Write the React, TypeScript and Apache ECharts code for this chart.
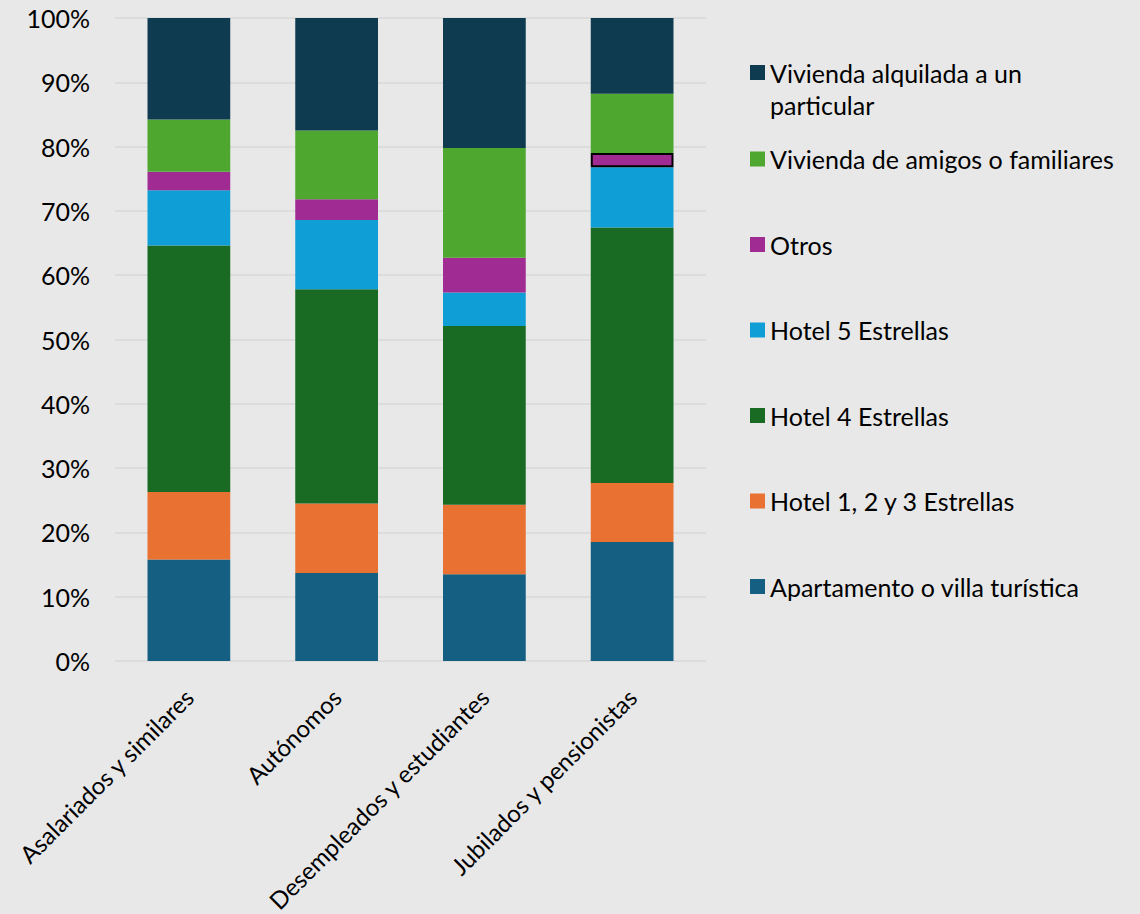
import React, { useEffect, useRef } from "react";
import * as echarts from "echarts";

const categories = [
  "Asalariados y similares",
  "Autónomos",
  "Desempleados y estudiantes",
  "Jubilados y pensionistas",
];

const apartamento = [15.8, 13.7, 13.5, 18.5];
const hotel123 = [10.5, 10.8, 10.8, 9.2];
const hotel4 = [38.3, 33.3, 27.8, 39.7];
const hotel5 = [8.6, 10.8, 5.2, 9.4];
const otros = [2.9, 3.2, 5.4, 2.2];
const amigos = [8.1, 10.7, 17.1, 9.2];
const alquilada = [15.8, 17.5, 20.2, 11.8];

const seriesNames = [
  "Apartamento o villa turística",
  "Hotel 1, 2 y 3 Estrellas",
  "Hotel 4 Estrellas",
  "Hotel 5 Estrellas",
  "Otros",
  "Vivienda de amigos o familiares",
  "Vivienda alquilada a un particular",
];

const colors = ["#156082", "#E97132", "#196B24", "#0F9ED5", "#A02B93", "#4EA72E", "#0F3B50"];

const yTicks = { min: 0, max: 100, interval: 10 };

const FONT = "Lato";

export default function App() {
  const ref = useRef<HTMLDivElement>(null);

  useEffect(() => {
    if (!ref.current) return;
    const chart = echarts.init(ref.current, null, { renderer: "svg" });
    const values = [apartamento, hotel123, hotel4, hotel5, otros, amigos, alquilada];

    const series = values.map((vals, i) => ({
      name: seriesNames[i],
      type: "bar",
      stack: "total",
      barCategoryGap: "44%",
      itemStyle: { color: colors[i] },
      data: vals.map((v, j) =>
        i === 4 && j === 3
          ? { value: v, itemStyle: { color: colors[i], borderColor: "#000000", borderWidth: 2 } }
          : v
      ),
    }));

    const legendText = { fontFamily: FONT, fontSize: 25, color: "#000000", lineHeight: 32 };

    chart.setOption({
      animation: false,
      backgroundColor: "#E8E8E8",
      textStyle: { fontFamily: FONT },
      grid: {
        left: 115,
        right: 434,
        top: 18,
        bottom: 253,
        containLabel: false,
        outerBoundsMode: "none",
      },
      legend: [
        {
          data: ["Vivienda alquilada a un particular"],
          orient: "vertical",
          left: 750,
          top: 24.5,
          padding: 0,
          icon: "rect",
          itemWidth: 15,
          itemHeight: 15,
          selectedMode: false,
          formatter: () => "\nVivienda alquilada a un\nparticular",
          textStyle: legendText,
        },
        {
          data: [
            "Vivienda de amigos o familiares",
            "Otros",
            "Hotel 5 Estrellas",
            "Hotel 4 Estrellas",
            "Hotel 1, 2 y 3 Estrellas",
            "Apartamento o villa turística",
          ],
          orient: "vertical",
          left: 750,
          top: 143,
          padding: 0,
          itemGap: 53.5,
          icon: "rect",
          itemWidth: 15,
          itemHeight: 15,
          selectedMode: false,
          textStyle: legendText,
        },
      ],
      xAxis: {
        type: "category",
        data: categories,
        axisLine: { show: false },
        axisTick: { show: false },
        axisLabel: {
          rotate: 45,
          margin: 32,
          fontFamily: FONT,
          fontSize: 24,
          color: "#000000",
          interval: 0,
        },
      },
      yAxis: {
        type: "value",
        min: yTicks.min,
        max: yTicks.max,
        interval: yTicks.interval,
        axisLine: { show: false },
        axisTick: { show: false },
        splitLine: { lineStyle: { color: "#D9D9D9", width: 1.5 } },
        axisLabel: {
          formatter: "{value}%",
          margin: 25,
          fontFamily: FONT,
          fontSize: 25,
          color: "#000000",
        },
      },
      series,
    });

    return () => chart.dispose();
  }, []);

  return (
    <div
      ref={ref}
      style={{ position: "absolute", left: 0, top: 0, width: 1140, height: 914 }}
    />
  );
}
